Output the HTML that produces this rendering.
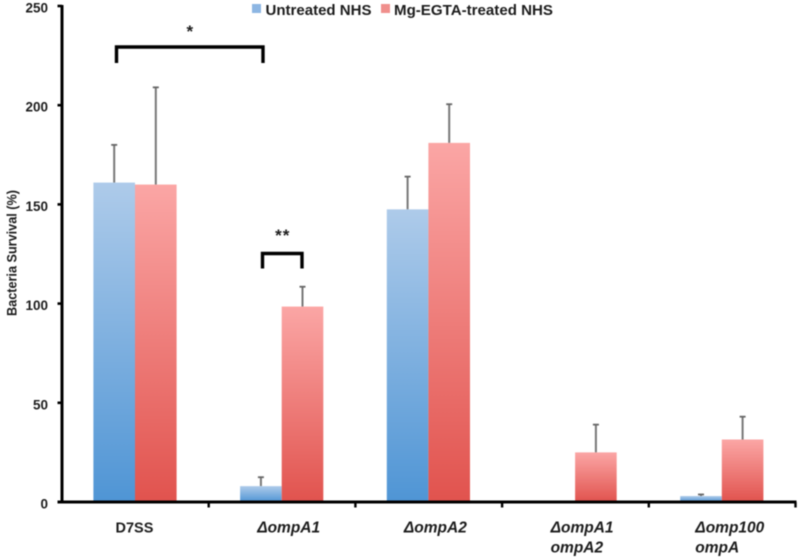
<!DOCTYPE html>
<html>
<head>
<meta charset="utf-8">
<style>
html,body{margin:0;padding:0;background:#fff;width:800px;height:557px;overflow:hidden}
svg{display:block;filter:blur(0.55px)}
text{font-family:"Liberation Sans",sans-serif;font-weight:bold;fill:#1c1c1c}
</style>
</head>
<body>
<svg id="chart" width="800" height="557" viewBox="0 0 800 557" xmlns="http://www.w3.org/2000/svg">
<defs>
<linearGradient id="blue-grad" x1="0" y1="0" x2="0" y2="1"><stop offset="0" stop-color="#aecbea"/><stop offset="1" stop-color="#4f95d5"/></linearGradient>
<linearGradient id="red-grad" x1="0" y1="0" x2="0" y2="1"><stop offset="0" stop-color="#fba6a5"/><stop offset="1" stop-color="#e1534e"/></linearGradient>
</defs>
<g id="legend">
<rect x="252" y="4" width="9" height="9" fill="#8db6e3"/>
<text x="265.5" y="15" font-size="14.5" textLength="106" lengthAdjust="spacingAndGlyphs">Untreated NHS</text>
<rect x="381" y="4" width="9" height="9" fill="#f08f8c"/>
<text x="394" y="15" font-size="14.5" textLength="159" lengthAdjust="spacingAndGlyphs">Mg-EGTA-treated NHS</text>
</g>
<text transform="translate(16.5,253) rotate(-90)" text-anchor="middle" font-size="13.5" textLength="126" lengthAdjust="spacingAndGlyphs">Bacteria Survival (%)</text>
<g id="bars"></g>
<g id="axes"></g>
<g id="annotations"></g>
</svg>
<script>
const categories = [["D7SS"], ["ΔompA1"], ["ΔompA2"], ["ΔompA1", "ompA2"], ["Δomp100", "ompA"]];
const italicCategory = [false, true, true, true, true];
const untreated = [161, 8, 147.5, 0, 3];
const treated = [160, 98.5, 181, 25, 31.5];
const untreatedErrorTop = [180, 12.5, 164, 0, 3.8];
const treatedErrorTop = [209, 108.5, 200.5, 39, 43];
const yTicks = [0, 50, 100, 150, 200, 250];

const NS = "http://www.w3.org/2000/svg";
const plotLeft = 62, bandWidth = 146.7, barWidth = 41.6, groupOffset = 31.4;
const y0 = 502, pxPerUnit = 1.984;
function yScale(v) { return y0 - v * pxPerUnit; }
function bandX(i) { return plotLeft + i * bandWidth; }
function barX(i, s) { return bandX(i) + groupOffset + s * barWidth; }
function barCenter(i, s) { return barX(i, s) + barWidth / 2; }
function make(parent, tag, attrs) {
  const el = document.createElementNS(NS, tag);
  for (const k in attrs) el.setAttribute(k, attrs[k]);
  parent.appendChild(el);
  return el;
}
const barsG = document.getElementById("bars");
const axesG = document.getElementById("axes");
const annG = document.getElementById("annotations");

function drawSeries(values, errs, s, grad, key) {
  values.forEach(function (v, i) {
    if (errs[i] > v) {
      const cx = barCenter(i, s);
      const stem = make(barsG, "line", {x1: cx, x2: cx, y1: yScale(v), y2: yScale(errs[i]), stroke: "#777", "stroke-width": 2});
      
      
      const cap = make(barsG, "line", {x1: cx - 3, x2: cx + 3, y1: yScale(errs[i]), y2: yScale(errs[i]), stroke: "#666", "stroke-width": 1.8});
      
      
    }
    if (v > 0) {
      const r = make(barsG, "rect", {x: barX(i, s), y: yScale(v), width: barWidth, height: v * pxPerUnit, fill: "url(#" + grad + ")"});
      
      
    }
  });
}
drawSeries(untreated, untreatedErrorTop, 0, "blue-grad", "untreated");
drawSeries(treated, treatedErrorTop, 1, "red-grad", "treated");

const yAxis = make(axesG, "line", {x1: plotLeft, x2: plotLeft, y1: yScale(250) - 1, y2: y0 + 1, stroke: "#000", "stroke-width": 3});


const xAxis = make(axesG, "line", {x1: plotLeft - 4.5, x2: bandX(categories.length) + 1, y1: y0, y2: y0, stroke: "#000", "stroke-width": 3});



yTicks.forEach(function (t) {
  const tick = make(axesG, "line", {x1: plotLeft - 4.5, x2: plotLeft, y1: yScale(t), y2: yScale(t), stroke: "#000", "stroke-width": 2.6});
  
  
  const lab = make(axesG, "text", {x: 48, y: yScale(t) + 6.5, "text-anchor": "end", "font-size": 13.5});
  
  
  lab.textContent = t;
});

categories.forEach(function (lines, i) {
  const tick = make(axesG, "line", {x1: bandX(i + 1), x2: bandX(i + 1), y1: y0, y2: y0 + 5.5, stroke: "#000", "stroke-width": 2.4});
  
  
  const lab = make(axesG, "text", {"font-size": italicCategory[i] ? 15.5 : 14.5, "font-style": italicCategory[i] ? "italic" : "normal"});
  
  
  const startX = bandX(i) + (italicCategory[i] ? (i === 4 ? 46.5 : 48.5) : 53.5);
  lines.forEach(function (line, j) {
    const sp = make(lab, "tspan", {x: startX, y: 532.5 + j * 20});
    sp.textContent = line;
  });
});

function bracket(x1, x2, top, bottom, stars, starY, name) {
  const p = make(annG, "path", {d: "M" + x1 + " " + bottom + "V" + top + "H" + x2 + "V" + bottom, fill: "none", stroke: "#000", "stroke-width": 3.4});
  
  
  const s = make(annG, "text", {x: (x1 + x2) / 2 + 0.5, y: starY, "text-anchor": "middle", "font-size": 17, "letter-spacing": 1});
  
  
  s.textContent = stars;
}
bracket(116.5, 263, 47, 63, "*", 37, "significance-bracket-wide");
bracket(262.5, 302, 253.5, 268.5, "**", 241, "significance-bracket-narrow");
</script>
</body>
</html>
